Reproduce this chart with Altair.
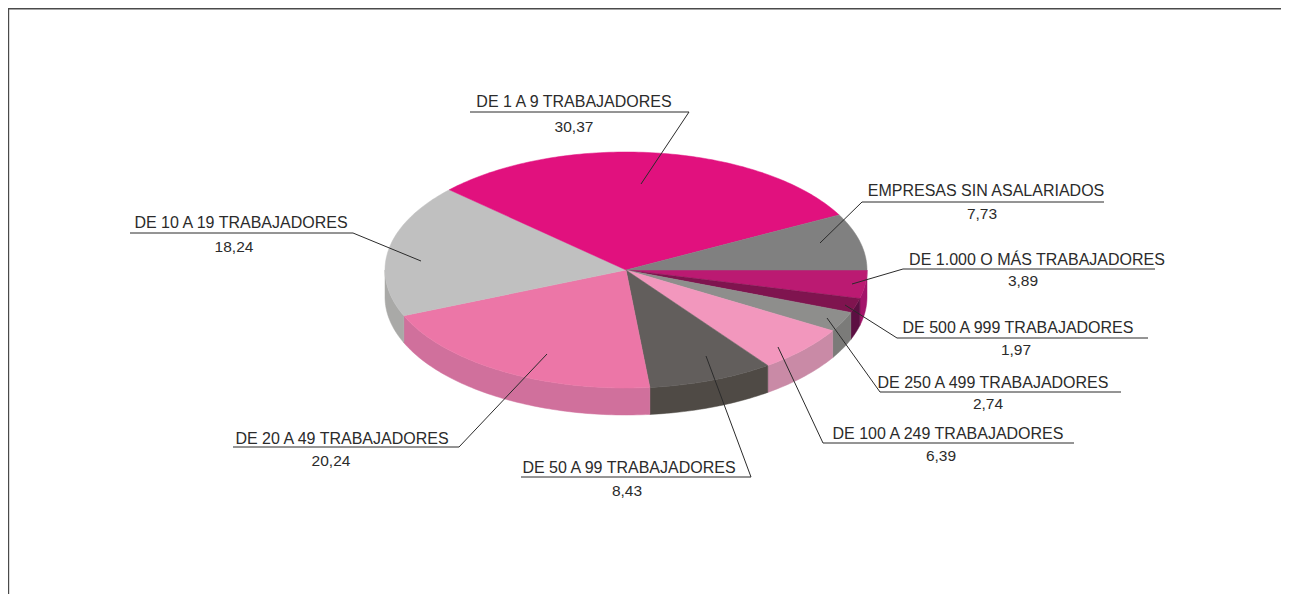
import math
import altair as alt
import pandas as pd

# Data, clockwise from the east
names = ["DE 1.000 O MÁS TRABAJADORES", "DE 500 A 999 TRABAJADORES", "DE 250 A 499 TRABAJADORES",
         "DE 100 A 249 TRABAJADORES", "DE 50 A 99 TRABAJADORES", "DE 20 A 49 TRABAJADORES",
         "DE 10 A 19 TRABAJADORES", "DE 1 A 9 TRABAJADORES", "EMPRESAS SIN ASALARIADOS"]
values = [3.89, 1.97, 2.74, 6.39, 8.43, 20.24, 18.24, 30.37, 7.73]

# Styles
top_colors = ["#bb1a72", "#7f144f", "#8e8e8c", "#f297bd", "#625e5c", "#ec76a7", "#c0c0c0", "#e1117e", "#808080"]
wall_colors = ["#a3146a", "#5c0f42", "#7b7b79", "#c98aa6", "#4f4a45", "#d0709c", "#a9a9a7", "#e1117e", "#808080"]

# Layout in page pixels
CX, CY, RX, RY, DEPTH = 626, 270, 241, 118, 27
W, H = 1273, 586
# label centre x, label y, value centre x, value y
label_pos = [(1037, 260, 1023, 281), (1018, 328, 1016, 350), (993, 383, 988, 404),
             (948, 434, 941, 456), (629, 468, 627, 491), (342, 439, 331, 461),
             (241, 223, 234, 247), (574, 102, 574, 127), (986, 191, 982, 214)]
# leader: inner end, elbow, far end of the underline (y of the underline = elbow y)
leaders = [((852, 284), (903, 269), 1155), ((845, 305), (897, 338), 1148), ((827, 318), (880, 392), 1121),
           ((778, 347), (823, 443), 1074), ((706, 356), (751, 477), 521), ((547, 354), (459, 447), 233),
           ((421, 261), (353, 233), 130), ((641, 184), (689, 112), 470), ((820, 243), (862, 202), 1104)]


def pt(deg, dz=0):
    a = math.radians(deg)
    return CX + RX * math.cos(a), CY + RY * math.sin(a) + dz


tops, walls = [], []
cum = 0.0
for i, v in enumerate(values):
    a0, a1 = cum * 3.6, (cum + v) * 3.6
    cum += v
    n = max(4, int(a1 - a0))
    arc = [a0 + (a1 - a0) * k / n for k in range(n + 1)]
    poly = [(CX, CY)] + [pt(a) for a in arc] + [(CX, CY)]
    for s, (x, y) in enumerate(poly):
        tops.append(dict(part=f"t{i}", seq=s, x=x, y=y, c=top_colors[i]))
    w0, w1 = max(a0, 0), min(a1, 180)
    if w1 > w0:
        m = max(2, int(w1 - w0))
        warc = [w0 + (w1 - w0) * k / m for k in range(m + 1)]
        poly = [pt(a) for a in warc] + [pt(a, DEPTH) for a in reversed(warc)]
        poly.append(poly[0])
        for s, (x, y) in enumerate(poly):
            walls.append(dict(part=f"w{i}", seq=s, x=x, y=y, c=wall_colors[i]))

lead_rows = []
for i, (a, b, far) in enumerate(leaders):
    for s, (x, y) in enumerate([a, b, (far, b[1])]):
        lead_rows.append(dict(part=f"l{i}", seq=s, x=x, y=y))

frame = pd.DataFrame([dict(seq=0, x=8.5, y=8 + H), dict(seq=1, x=8.5, y=8.8), dict(seq=2, x=8 + W, y=8.8)])
lab = pd.DataFrame([dict(t=names[i], x=label_pos[i][0], y=label_pos[i][1]) for i in range(9)])
val = pd.DataFrame([dict(t=f"{values[i]:.2f}".replace(".", ","), x=label_pos[i][2], y=label_pos[i][3]) for i in range(9)])

X = alt.X("x:Q", axis=None, scale=alt.Scale(domain=[8, 8 + W], range=[0, W]))
Y = alt.Y("y:Q", axis=None, scale=alt.Scale(domain=[8, 8 + H], range=[0, H]))


def polys(rows, **kw):
    return alt.Chart(pd.DataFrame(rows)).mark_line(interpolate="linear", **kw).encode(
        x=X, y=Y, order="seq:Q", detail="part:N",
        fill=alt.Fill("c:N", scale=None, legend=None),
        stroke=alt.Stroke("c:N", scale=None, legend=None))


leader_layer = alt.Chart(pd.DataFrame(lead_rows)).mark_line(color="#2b2b2b", strokeWidth=1).encode(
    x=X, y=Y, order="seq:Q", detail="part:N")
frame_layer = alt.Chart(frame).mark_line(color="#4a4a4a", strokeWidth=1.4).encode(x=X, y=Y, order="seq:Q")
label_layer = alt.Chart(lab).mark_text(font="Liberation Sans", fontSize=16, color="#2b2b2b").encode(x=X, y=Y, text="t:N")
value_layer = alt.Chart(val).mark_text(font="Liberation Sans", fontSize=15.5, color="#2b2b2b").encode(x=X, y=Y, text="t:N")

chart = alt.layer(polys(walls, strokeWidth=0.5), polys(tops, strokeWidth=0.5),
                  frame_layer, leader_layer, label_layer, value_layer).properties(
    width=W, height=H, padding=0, autosize=alt.AutoSizeParams(type="none"), background="white"
).configure_view(stroke=None)

chart.save("out.html", embed_options={"renderer": "svg", "actions": False})
